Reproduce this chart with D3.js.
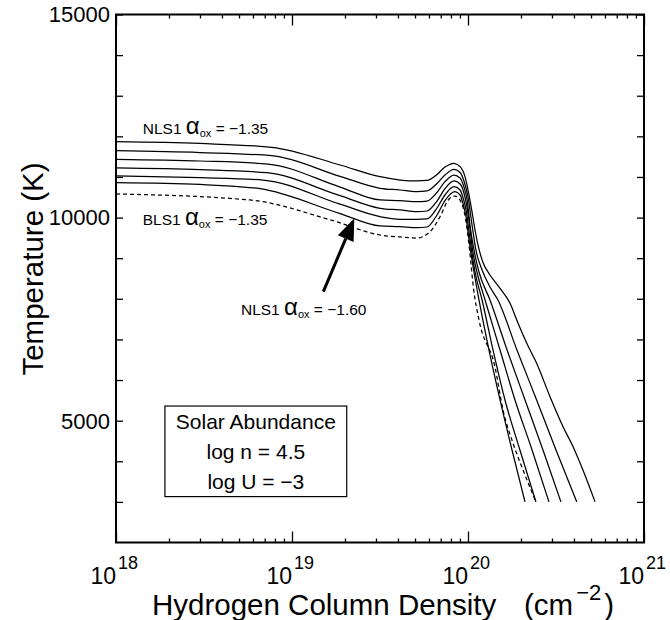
<!DOCTYPE html>
<html><head><meta charset="utf-8">
<script src="https://cdn.jsdelivr.net/npm/d3@7"></script>
<style>body{margin:0;background:#fff} text{font-family:"Liberation Sans",Arial,Helvetica,sans-serif;fill:#000}</style>
</head><body><svg id="c" width="670" height="620"></svg>
<script>
// log10 of hydrogen column density (cm^-2) and temperature (K) for each model
const nls135_logN=[18,18.477,18.885,19.273,19.5,19.614,19.709,19.767,19.824,19.869,19.92,19.955,19.983,20.002,20.021,20.04,20.059,20.087,20.125,20.182,20.239,20.277,20.334,20.39,20.466,20.54,20.597,20.653,20.722];
const nls135_T=[11868,11824,11730,11295,11007,10925,10901,10913,11061,11245,11337,11253,11007,10637,10187,9694,9283,8874,8587,8259,7890,7479,6905,6412,5590,4852,4359,3786,3000];
const nls140_logN=[18,18.477,18.885,19.273,19.5,19.614,19.709,19.767,19.824,19.869,19.92,19.955,19.977,20.0,20.023,20.045,20.08,20.125,20.17,20.278,20.39,20.5,20.618];
const nls140_T=[11647,11602,11524,11016,10721,10679,10637,10655,10839,11048,11189,11110,10901,10507,9817,9202,8710,8291,7971,6740,5509,4278,3000];
const nls145_logN=[18,18.477,18.864,19.273,19.5,19.614,19.709,19.767,19.824,19.869,19.92,19.955,19.977,19.997,20.011,20.034,20.0625,20.125,20.222,20.324,20.426,20.528];
const nls145_T=[11435,11393,11319,10751,10433,10416,10391,10408,10620,10884,11048,10975,10753,10384,9817,9202,8660,7971,6740,5509,4278,3000];
const nls150_logN=[18,18.477,18.856,19.273,19.5,19.614,19.709,19.767,19.824,19.869,19.92,19.955,19.977,19.994,20.009,20.026,20.051,20.097,20.182,20.267,20.364,20.46];
const nls150_T=[11221,11179,11105,10539,10229,10187,10145,10162,10408,10711,10901,10827,10605,10261,9817,9202,8660,7971,6740,5509,4278,3000];
const nls155_logN=[18,18.477,18.835,19.273,19.5,19.614,19.709,19.767,19.824,19.869,19.92,19.955,19.974,19.991,20.003,20.02,20.04,20.08,20.142,20.21,20.295,20.386];
const nls155_T=[11024,10982,10925,10330,10022,9958,9958,9965,10236,10556,10760,10679,10458,10138,9744,9202,8660,7971,6740,5509,4278,3000];
const nls160_logN=[18,18.477,18.818,19.273,19.5,19.614,19.709,19.767,19.824,19.869,19.926,19.955,19.972,19.989,20.0,20.014,20.034,20.0625,20.119,20.182,20.25,20.324];
const nls160_T=[10859,10815,10711,10098,9793,9776,9751,9768,10064,10416,10637,10556,10334,10014,9645,9202,8660,7971,6740,5509,4278,3000];
const bls135_logN=[18,18.761,19.233,19.5,19.614,19.709,19.784,19.841,19.888,19.926,19.964,19.993,20.011,20.03,20.0625,20.153,20.199,20.256,20.3125,20.386];
const bls135_T=[10581,10433,9923,9571,9522,9497,9652,10022,10433,10531,10352,9776,9121,8298,7479,6329,5263,4443,3786,3000];

const series=[
  {logN:nls135_logN,T:nls135_T,dashed:false},
  {logN:nls140_logN,T:nls140_T,dashed:false},
  {logN:nls145_logN,T:nls145_T,dashed:false},
  {logN:nls150_logN,T:nls150_T,dashed:false},
  {logN:nls155_logN,T:nls155_T,dashed:false},
  {logN:nls160_logN,T:nls160_T,dashed:false},
  {logN:bls135_logN,T:bls135_T,dashed:true}
];
const xMajor=[18,19,20,21];
const yTicks=[3000,4000,5000,6000,7000,8000,9000,10000,11000,12000,13000,14000,15000];
const yLabelled=[5000,10000,15000];
const boxLines=["Solar Abundance","log n = 4.5","log U = \u22123"];

const svg=d3.select("#c");
const L=116,R=644,TOP=14.5,BOT=542.5;
const x=d3.scaleLog().domain([1e18,1e21]).range([L,R]);
const y=d3.scaleLinear().domain([2000,15000]).range([BOT,TOP]);

const xMinor=[];
for(let d=18;d<21;d++) for(let k=2;k<=9;k++) xMinor.push(k*Math.pow(10,d));
const xMaj=xMajor.map(e=>Math.pow(10,e));

function styleAxis(g){g.select(".domain").remove();g.selectAll("line").attr("stroke","#000").attr("stroke-width",1.3);g.selectAll("text").remove();}
svg.append("g").attr("transform",`translate(0,${BOT})`).call(d3.axisBottom(x).tickValues(xMinor).tickSize(-4)).call(styleAxis);
svg.append("g").attr("transform",`translate(0,${BOT})`).call(d3.axisBottom(x).tickValues(xMaj).tickSize(-11)).call(styleAxis);
svg.append("g").attr("transform",`translate(0,${TOP})`).call(d3.axisTop(x).tickValues(xMinor).tickSize(-4)).call(styleAxis);
svg.append("g").attr("transform",`translate(0,${TOP})`).call(d3.axisTop(x).tickValues(xMaj).tickSize(-11)).call(styleAxis);
svg.append("g").attr("transform",`translate(${L},0)`).call(d3.axisLeft(y).tickValues(yTicks).tickSize(-7)).call(styleAxis);
svg.append("g").attr("transform",`translate(${R},0)`).call(d3.axisRight(y).tickValues(yTicks).tickSize(-7)).call(styleAxis);

svg.append("rect").attr("x",L).attr("y",TOP).attr("width",R-L).attr("height",BOT-TOP)
  .attr("fill","none").attr("stroke","#000").attr("stroke-width",2);

svg.append("g").selectAll("text").data(yLabelled).join("text")
  .attr("x",L-6).attr("y",d=>y(d)).attr("dy","0.36em").attr("text-anchor","end")
  .attr("font-size",22).text(d=>d);

// x tick labels: "10" ends at the tick, exponent follows as superscript
const tmp=svg.append("text").attr("font-size",23).text("10");
const w10=tmp.node().getComputedTextLength(); tmp.remove();
const xl=svg.append("g").selectAll("text").data(xMajor).join("text")
  .attr("x",d=>x(Math.pow(10,d))-w10).attr("y",583.5).attr("font-size",23);
xl.append("tspan").text("10");
xl.append("tspan").attr("dx",2).attr("dy",-15).attr("font-size",18).text(d=>d);

// axis titles
const xt=svg.append("text").attr("y",615).attr("font-size",29.5);
xt.append("tspan").attr("x",152).text("Hydrogen Column Density");
xt.append("tspan").attr("x",524).text("(cm");
xt.append("tspan").attr("dx",3).attr("dy",-15).attr("font-size",22).text("\u22122");
xt.append("tspan").attr("dx",3).attr("dy",15).text(")");
svg.append("text").attr("transform",`translate(43,269) rotate(-90)`).attr("text-anchor","middle")
  .attr("font-size",29.5).text("Temperature (K)");

const line=d3.line().x(d=>x(Math.pow(10,d[0]))).y(d=>y(d[1])).curve(d3.curveMonotoneX);
svg.append("g").selectAll("path").data(series).join("path")
  .attr("d",s=>line(s.logN.map((v,i)=>[v,s.T[i]])))
  .attr("fill","none").attr("stroke","#000").attr("stroke-width",1.25)
  .attr("stroke-dasharray",s=>s.dashed?"4,3":null);

function alphaLabel(px,py,name,val){
  const t=svg.append("text").attr("x",px).attr("y",py).attr("font-size",15.5);
  t.append("tspan").text(name+"\u00a0");
  t.append("tspan").attr("font-size",24).text("\u03b1");
  t.append("tspan").attr("font-size",11).attr("dy",3).text("ox");
  t.append("tspan").attr("dy",-3).text("\u00a0=\u00a0"+val);
}
alphaLabel(x(Math.pow(10,18.152)),y(12051),"NLS1","\u22121.35");
alphaLabel(x(Math.pow(10,18.152)),y(9818),"BLS1","\u22121.35");
alphaLabel(x(Math.pow(10,18.71)),y(7602),"NLS1","\u22121.60");

const ax0=x(Math.pow(10,19.178)),ay0=y(8175),ax1=x(Math.pow(10,19.354)),ay1=y(9982);
const ang=Math.atan2(ay1-ay0,ax1-ax0);
const hl=22,hw=8.5;
const hbx=ax1-hl*Math.cos(ang),hby=ay1-hl*Math.sin(ang);
svg.append("line").attr("x1",ax0).attr("y1",ay0).attr("x2",hbx).attr("y2",hby).attr("stroke","#000").attr("stroke-width",3);
svg.append("path").attr("d",`M${ax1},${ay1}L${hbx+hw*Math.sin(ang)},${hby-hw*Math.cos(ang)}L${hbx-hw*Math.sin(ang)},${hby+hw*Math.cos(ang)}Z`).attr("fill","#000");

const bx0=x(Math.pow(10,18.278)),bx1=x(Math.pow(10,19.311)),by0=y(5360),by1=y(3130);
svg.append("rect").attr("x",bx0).attr("y",by0).attr("width",bx1-bx0).attr("height",by1-by0)
  .attr("fill","#fff").attr("stroke","#000").attr("stroke-width",1.2);
svg.append("g").selectAll("text").data(boxLines).join("text")
  .attr("x",(bx0+bx1)/2).attr("y",(d,i)=>429+i*30).attr("text-anchor","middle").attr("font-size",21).text(d=>d);
</script></body></html>
